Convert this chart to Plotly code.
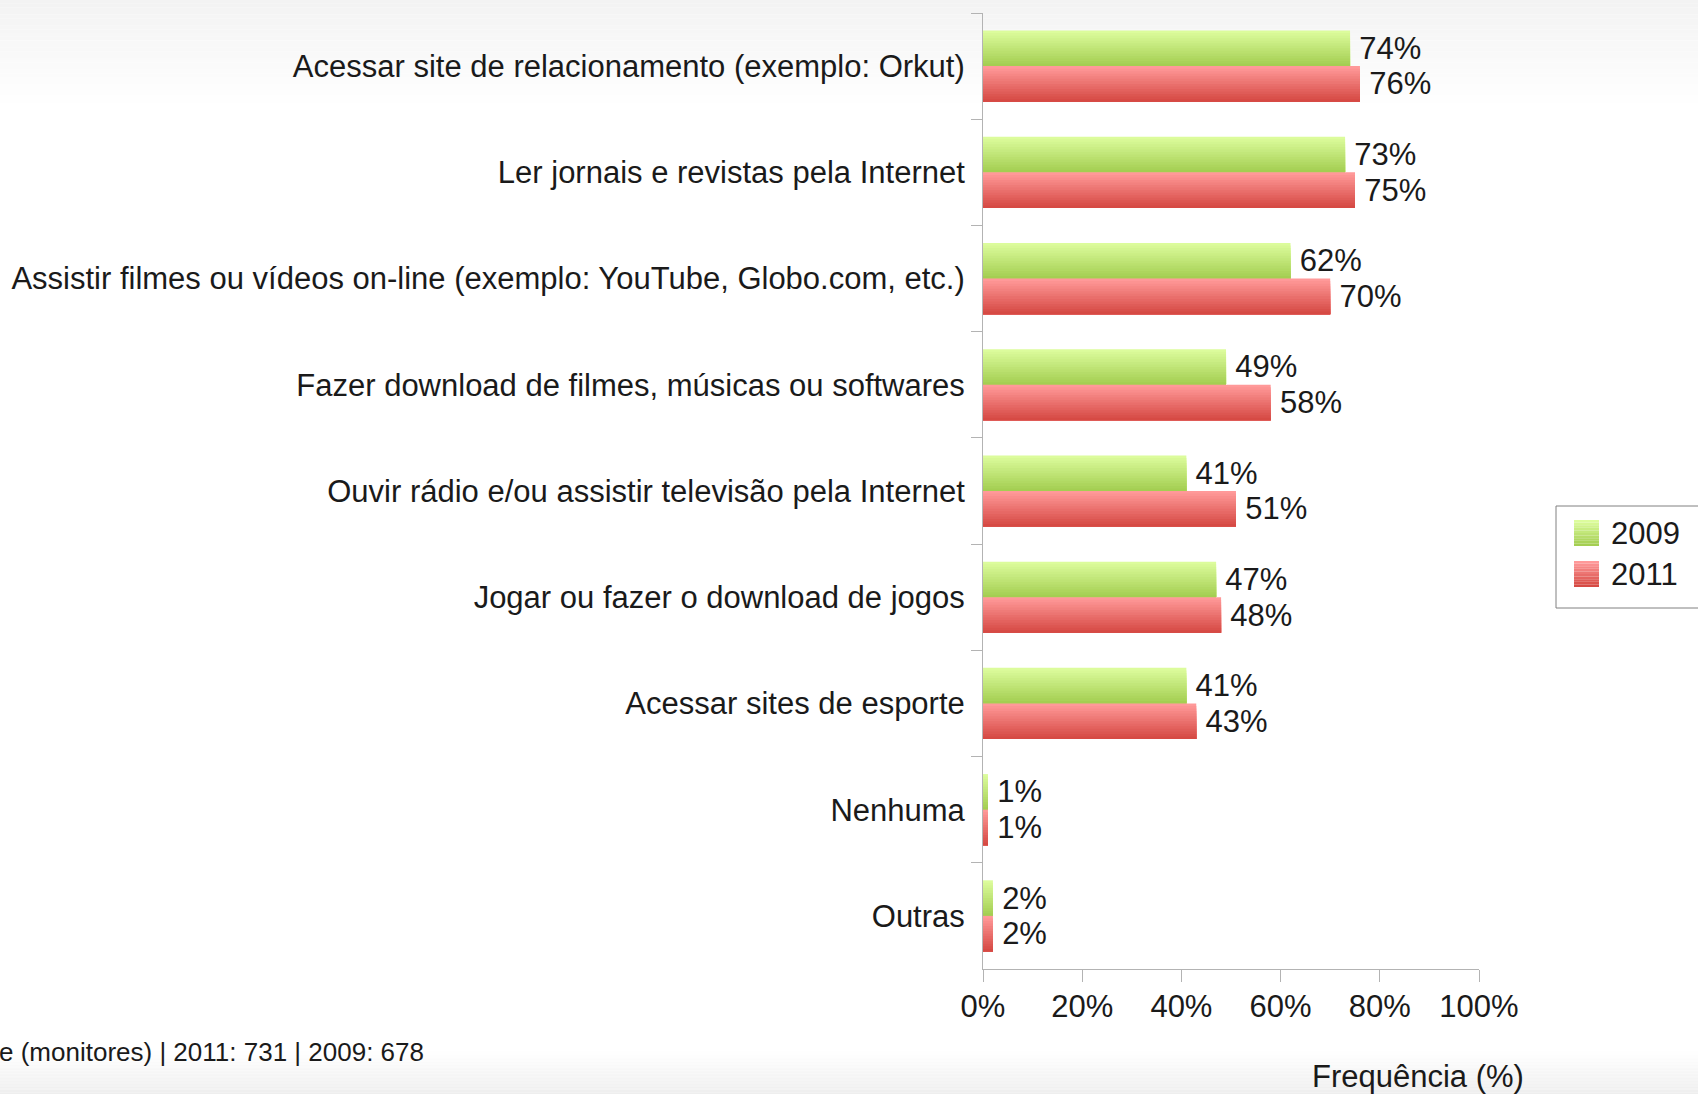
import plotly.graph_objects as go

# ---------------- data ----------------
categories = [
    "Acessar site de relacionamento (exemplo: Orkut)",
    "Ler jornais e revistas pela Internet",
    "Assistir filmes ou vídeos on-line (exemplo: YouTube, Globo.com, etc.)",
    "Fazer download de filmes, músicas ou softwares",
    "Ouvir rádio e/ou assistir televisão pela Internet",
    "Jogar ou fazer o download de jogos",
    "Acessar sites de esporte",
    "Nenhuma",
    "Outras",
]
series_names = ["2009", "2011"]
values_2009 = [74, 73, 62, 49, 41, 47, 41, 1, 2]
values_2011 = [76, 75, 70, 58, 51, 48, 43, 1, 2]
x_ticks = [0, 20, 40, 60, 80, 100]
x_tick_labels = ["0%", "20%", "40%", "60%", "80%", "100%"]
x_title = "Frequência (%)"
footnote = "e (monitores) | 2011: 731 | 2009: 678"

# ---------------- style ----------------
W, H = 1698, 1094
L, R, T, B = 983, 219, 13, 125
PW, PH = W - L - R, H - T - B
FONT = "Liberation Sans, Arial, sans-serif"
TXT = "#1a1a1a"
AX = "#b3b3b3"
grad = {
    "2009": ((220, 252, 156), (164, 206, 82)),
    "2011": ((255, 153, 153), (214, 74, 68)),
}
bar_offsets = {"2009": -0.335, "2011": 0.0}
bar_width = 0.335
NSL = 14


def mix(c1, c2, t):
    return "rgb(%d,%d,%d)" % tuple(round(a + (b - a) * t) for a, b in zip(c1, c2))


def xp(px):
    return (px - L) / PW


def yp(py):
    return (H - B - py) / PH


fig = go.Figure()
for name, vals in zip(series_names, [values_2009, values_2011]):
    top, bot = grad[name]
    for k in range(NSL):
        fig.add_trace(go.Bar(
            x=vals, y=categories, orientation="h",
            name=name, showlegend=False,
            offset=bar_offsets[name] + bar_width * k / NSL,
            width=bar_width * (NSL - k) / NSL,
            marker=dict(color=mix(top, bot, k / (NSL - 1)), line=dict(width=0)),
            text=["\u2009%d%%" % v for v in vals] if k == 0 else None,
            textposition="outside" if k == 0 else "none",
            constraintext="none",
            cliponaxis=False,
            textfont=dict(family=FONT, size=31, color=TXT),
            hovertemplate="%{y}<br>" + name + ": %{x}%<extra></extra>",
        ))

shapes = []
# background gradients (top and bottom)
NB = 30
for i in range(NB):
    y0, y1 = 110 * i / NB, 110 * (i + 1) / NB
    c = mix((243, 243, 243), (255, 255, 255), i / (NB - 1))
    shapes.append(dict(type="rect", xref="paper", yref="paper", layer="below",
                       x0=xp(0), x1=xp(W), y0=yp(y1), y1=yp(y0),
                       fillcolor=c, line=dict(width=0)))
for i in range(NB):
    y0 = 1050 + 44 * i / NB
    y1 = 1050 + 44 * (i + 1) / NB
    c = mix((255, 255, 255), (238, 238, 238), i / (NB - 1))
    shapes.append(dict(type="rect", xref="paper", yref="paper", layer="below",
                       x0=xp(0), x1=xp(W), y0=yp(y1), y1=yp(y0),
                       fillcolor=c, line=dict(width=0)))

# custom legend
shapes.append(dict(type="rect", xref="paper", yref="paper",
                   x0=xp(1556), x1=xp(1710), y0=yp(608), y1=yp(506),
                   fillcolor="white", line=dict(color="#808080", width=1)))
annotations = []
leg_rows = [520, 561]
for name, ytop in zip(series_names, leg_rows):
    top, bot = grad[name]
    n = 10
    for k in range(n):
        shapes.append(dict(type="rect", xref="paper", yref="paper",
                           x0=xp(1574), x1=xp(1599),
                           y0=yp(ytop + 26 * (k + 1) / n), y1=yp(ytop + 26 * k / n),
                           fillcolor=mix(top, bot, k / (n - 1)), line=dict(width=0)))
    annotations.append(dict(xref="paper", yref="paper", x=xp(1609), y=yp(ytop + 13),
                            text=name, showarrow=False, xanchor="left", yanchor="middle",
                            font=dict(family=FONT, size=31, color=TXT)))

annotations.append(dict(xref="paper", yref="paper", x=xp(1526), y=yp(1076),
                        text=x_title, showarrow=False, xanchor="right", yanchor="middle",
                        font=dict(family=FONT, size=31, color=TXT)))
annotations.append(dict(xref="paper", yref="paper", x=xp(426), y=yp(1052),
                        text=footnote, showarrow=False, xanchor="right", yanchor="middle",
                        font=dict(family=FONT, size=26, color=TXT)))

fig.update_layout(
    width=W, height=H,
    margin=dict(l=L, r=R, t=T, b=B, pad=0),
    paper_bgcolor="white", plot_bgcolor="rgba(0,0,0,0)",
    barmode="overlay", showlegend=False,
    font=dict(family=FONT, size=31, color=TXT),
    shapes=shapes, annotations=annotations,
    xaxis=dict(range=[0, 100], tickvals=x_ticks, ticktext=x_tick_labels,
               showgrid=False, zeroline=False, showline=True, linecolor=AX, linewidth=1,
               ticks="outside", ticklen=12, tickcolor=AX, ticklabelstandoff=-2,
               tickfont=dict(family=FONT, size=31, color=TXT)),
    yaxis=dict(categoryorder="array", categoryarray=categories,
               range=[len(categories) - 0.5, -0.5],
               showgrid=False, zeroline=False, showline=True, linecolor=AX, linewidth=1,
               ticks="outside", ticklen=11, tickcolor=AX, tickson="boundaries",
               ticklabelstandoff=11,
               tickfont=dict(family=FONT, size=31, color=TXT)),
)

fig.write_html("out.html", config={"displayModeBar": False},
               post_script="document.body.style.margin='0';document.body.style.overflow='hidden';")
